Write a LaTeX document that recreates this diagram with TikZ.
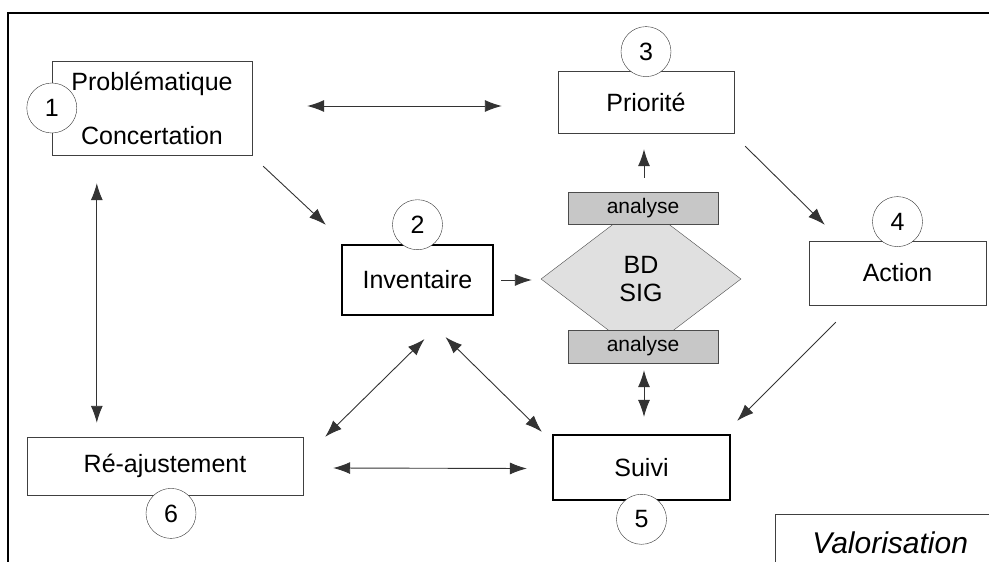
\documentclass[tikz,border=0pt]{standalone}
\usepackage{fontspec}
\setmainfont{Liberation Sans}
\usetikzlibrary{arrows.meta, shapes.geometric, positioning, calc}

\begin{document}
\begin{tikzpicture}[x=1pt, y=-1pt, >={Latex[length=17pt,width=12pt]},
		box/.style={draw=black!75, thin, fill=white, inner sep=0pt, font=\fontsize{25}{30}\selectfont},
		thickbox/.style={box, draw=black, line width=2.2pt},
		num/.style={circle, draw=black!80, thin, fill=white, minimum size=50pt, inner sep=0pt, font=\fontsize{25}{30}\selectfont},
		graybox/.style={draw=black!70, fill=black!22, minimum width=150pt, inner sep=0pt, font=\fontsize{21}{24}\selectfont},
		link/.style={draw=black!80, line width=0.9pt}]
		\useasboundingbox (0,0) rectangle (989,562);
		\draw[line width=2pt] (8,13) rectangle (1010,590);
		
		\node[box, minimum width=200pt, minimum height=94pt, align=center] (prob) at (152,108) {Problématique\\[24pt]Concertation};
		\node[box, minimum width=176pt, minimum height=62pt] (prio) at (646,102) {Priorité};
		\node[thickbox, minimum width=151pt, minimum height=70pt] (inv) at (417.5,280) {Inventaire};
		\node[diamond, draw=black!70, fill=black!12, minimum width=200pt, minimum height=152pt, inner sep=0pt, align=center, font=\fontsize{25}{28}\selectfont] (bd) at (641,279) {BD\\SIG};
		\node[graybox, minimum height=32pt] (ana1) at (643,208) {analyse};
		\node[graybox, minimum height=33pt] (ana2) at (643,346.5) {analyse};
		\node[box, minimum width=177pt, minimum height=64pt] (act) at (897.5,273) {Action};
		\node[box, minimum width=276pt, minimum height=58pt] (reaj) at (165,466) {Ré-ajustement};
		\node[thickbox, minimum width=177pt, minimum height=65pt] (suivi) at (641.5,467.5) {Suivi};
		\node[box, anchor=north west, minimum width=230pt, minimum height=58pt, font=\fontsize{30}{36}\selectfont\itshape] (valo) at (775,514) {Valorisation};
		
		% numeros des etapes
		\node[num] (n1) at (prob.west) {1};
		\node[num, above=-6pt of inv] (n2) {2};
		\node[num, above=-6pt of prio] (n3) {3};
		\node[num, above=-6pt of act] (n4) {4};
		\node[num, below=-7pt of suivi] (n5) {5};
		\node[num, below=-7pt of reaj, xshift=6pt] (n6) {6};
		
		\draw[link, <->] ($(prob.east)+(55,-2)$) -- ($(prio.west)+(-56,4)$);
		\draw[link, ->] ($(prob.south east)+(11,11)$) -- ($(inv.north west)+(-15,-19)$);
		\draw[link, <->] ($(prob.south west)+(45,28)$) -- ($(reaj.north west)+(70,-14)$);
		\draw[link, ->] ($(inv.east)+(7,0)$) -- ($(bd.west)+(-9,1)$);
		\draw[link, ->] ($(ana1.north)+(1,-14)$) -- ($(prio.south)+(-2,16)$);
		\draw[link, ->] ($(prio.south east)+(11,13)$) -- ($(act.north west)+(16,-16)$);
		\draw[link, ->] ($(act.south west)+(27,17)$) -- ($(suivi.north east)+(6,-13)$);
		\draw[link, <->] ($(ana2.south)+(1,7)$) -- ($(suivi.north)+(2.5,-17)$);
		\draw[link, <->] ($(inv.south)+(7,23)$) -- ($(reaj.north east)+(22,0)$);
		\draw[link, <->] ($(inv.south)+(28,21)$) -- ($(suivi.north west)+(-10,-2)$);
		\draw[link, <->] ($(reaj.east)+(30,2)$) -- ($(suivi.west)+(-25,1)$);
	\end{tikzpicture}
\end{document}
